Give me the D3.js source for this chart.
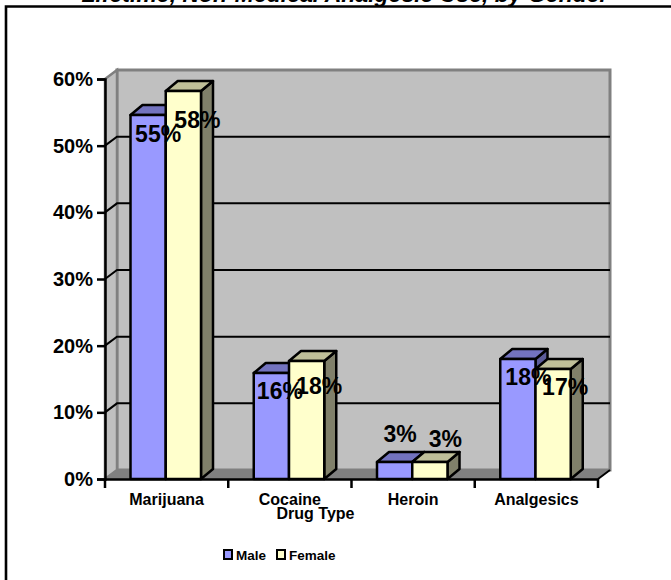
<!DOCTYPE html>
<html>
<head>
<meta charset="utf-8">
<script src="https://cdn.jsdelivr.net/npm/d3@7"></script>
<style>
  html, body { margin: 0; padding: 0; background: #fff; overflow: hidden; }
  text { font-family: 'Liberation Sans', Arial, sans-serif; font-weight: bold; fill: #000; }
</style>
</head>
<body>
<div id="chart"></div>
<script>
const titleText = 'Lifetime, Non-Medical Analgesic Use, by Gender'
const drugTypes = ['Marijuana', 'Cocaine', 'Heroin', 'Analgesics']
const maleValues = [0.546, 0.159, 0.0255, 0.18]
const femaleValues = [0.582, 0.177, 0.0255, 0.165]
const maleLabels = ['55%', '16%', '3%', '18%']
const femaleLabels = ['58%', '18%', '3%', '17%']
const yTicks = [0, 0.1, 0.2, 0.3, 0.4, 0.5, 0.6]
const seriesNames = ['Male', 'Female']

const width = 671
const height = 580
// depth of the fake 3d box
const dx = 12
const dy = -10
const wallDy = -9

// hand placed data labels, relative to the front of each bar
const labelNudge = {
  Male: { x: [10, 8.5, 5.5, 10.5], y: [27, 26, -20, 26] },
  Female: { x: [14, 12.5, 15.5, 12], y: [37, 33, -15, 26] }
}

const svg = d3
  .select('#chart')
  .append('svg')
  .attr('width', width)
  .attr('height', height)

const xPositionScale = d3.scaleBand().domain(drugTypes).range([105, 598])
const yPositionScale = d3.scaleLinear().domain([0, 0.6]).range([479, 79])
const seriesScale = d3.scaleBand().domain(seriesNames).range([25.5, 96])

const colors = {
  Male: { front: '#9999ff', top: '#7373bf', side: '#5c5c99' },
  Female: { front: '#ffffcc', top: '#bfbf99', side: '#80806a' }
}

// chart frame, right and bottom edges fall outside the picture
svg.append('path')
  .attr('d', 'M6,582V6.5H673')
  .attr('fill', 'none').attr('stroke', 'black').attr('stroke-width', 2.6)

// title, cut off by the top of the picture
svg.append('text')
  .attr('x', 345)
  .attr('y', 1.5)
  .attr('text-anchor', 'middle')
  .attr('font-size', 23)
  .style('font-style', 'italic')
  .text(titleText)

const y0 = yPositionScale(0)
const yTop = yPositionScale(0.6)
const xL = xPositionScale.range()[0]
const xR = xPositionScale.range()[1]

const poly = pts => pts.map(p => p.join(',')).join(' ')

// back wall
svg.append('rect')
  .attr('x', xL + dx).attr('y', yTop + wallDy).attr('width', xR - xL).attr('height', y0 - yTop)
  .attr('fill', '#c0c0c0').attr('stroke', '#808080').attr('stroke-width', 3)
// side wall
svg.append('polygon')
  .attr('points', poly([[xL, yTop], [xL + dx, yTop + wallDy], [xL + dx, y0 + wallDy], [xL, y0]]))
  .attr('fill', '#c0c0c0').attr('stroke', '#808080').attr('stroke-width', 2.5)
// floor
svg.append('polygon')
  .attr('points', poly([[xL, y0], [xL + dx, y0 + wallDy], [xR + dx, y0 + wallDy], [xR, y0]]))
  .attr('fill', '#808080').attr('stroke', '#808080').attr('stroke-width', 1)

// gridlines along the side wall and the back wall
yTicks.filter(d => d > 0 && d < 0.6).forEach(d => {
  const y = yPositionScale(d)
  svg.append('polyline')
    .attr('points', poly([[xL, y], [xL + dx, y + wallDy], [xR + dx, y + wallDy]]))
    .attr('fill', 'none').attr('stroke', 'black').attr('stroke-width', 2)
})
// black edge at the right end of the floor
svg.append('line')
  .attr('x1', xR).attr('y1', y0).attr('x2', xR + dx).attr('y2', y0 + wallDy)
  .attr('stroke', 'black').attr('stroke-width', 2)

// bars
function drawBar(name, category, value) {
  const x0 = xPositionScale(category) + seriesScale(name)
  const x1 = x0 + seriesScale.bandwidth()
  const y = yPositionScale(value)
  const g = svg.append('g').attr('stroke', 'black').attr('stroke-width', 2.5).attr('stroke-linejoin', 'round')
  g.append('polygon').attr('points', poly([[x1, y], [x1 + dx, y + dy], [x1 + dx, y0 + dy], [x1, y0]])).attr('fill', colors[name].side)
  g.append('polygon').attr('points', poly([[x0, y], [x0 + dx, y + dy], [x1 + dx, y + dy], [x1, y]])).attr('fill', colors[name].top)
  g.append('rect').attr('x', x0).attr('y', y).attr('width', x1 - x0).attr('height', y0 - y).attr('fill', colors[name].front)
}
drugTypes.forEach((c, i) => {
  drawBar('Male', c, maleValues[i])
  drawBar('Female', c, femaleValues[i])
})

// axes
const yAxis = d3.axisLeft(yPositionScale).tickValues(yTicks).tickFormat(d3.format('.0%')).tickSize(8).tickPadding(4)
const yG = svg.append('g').attr('transform', `translate(${xL},0)`).call(yAxis)
yG.selectAll('text').attr('font-size', 20)
yG.selectAll('line').attr('stroke', 'black').attr('stroke-width', 2.5)
yG.select('.domain').attr('stroke', 'black').attr('stroke-width', 2.5)

const xAxis = d3.axisBottom(xPositionScale).tickSize(0).tickPadding(15)
const xG = svg.append('g').attr('transform', `translate(0,${y0})`).call(xAxis)
xG.selectAll('text').attr('font-size', 16)
xG.select('.domain').attr('stroke', 'black').attr('stroke-width', 2.5)
// ticks sit between the categories
xG.selectAll('.sep')
  .data(d3.range(drugTypes.length + 1))
  .enter().append('line')
  .attr('x1', i => xL + i * xPositionScale.step())
  .attr('x2', i => xL + i * xPositionScale.step())
  .attr('y1', 0).attr('y2', 9)
  .attr('stroke', 'black').attr('stroke-width', 2.5)

// value labels
function drawLabels(name, values, labels) {
  svg.append('g').selectAll('text')
    .data(values)
    .enter().append('text')
    .attr('x', (d, i) => xPositionScale(drugTypes[i]) + seriesScale(name) + seriesScale.bandwidth() / 2 + labelNudge[name].x[i])
    .attr('y', (d, i) => yPositionScale(d) + labelNudge[name].y[i])
    .attr('text-anchor', 'middle')
    .attr('font-size', 23)
    .text((d, i) => labels[i])
}
drawLabels('Male', maleValues, maleLabels)
drawLabels('Female', femaleValues, femaleLabels)

// axis title
svg.append('text').attr('x', 315.5).attr('y', 519).attr('text-anchor', 'middle').attr('font-size', 16).text('Drug Type')

// legend
const legendX = d3.scalePoint().domain(seriesNames).range([224, 277])
seriesNames.forEach(name => {
  svg.append('rect')
    .attr('x', legendX(name)).attr('y', 550).attr('width', 8).attr('height', 9)
    .attr('fill', colors[name].front).attr('stroke', 'black').attr('stroke-width', 2)
  svg.append('text')
    .attr('x', legendX(name) + 12).attr('y', 560)
    .attr('font-size', 13.5)
    .text(name)
})
</script>
</body>
</html>
